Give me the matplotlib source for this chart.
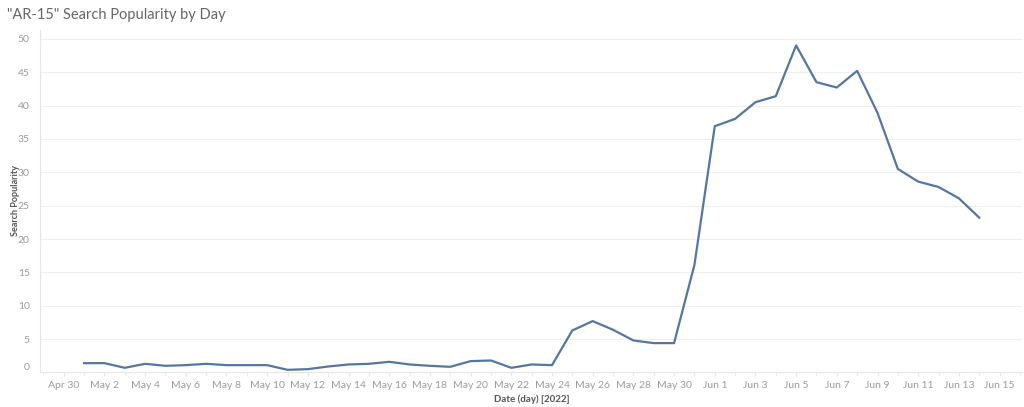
import matplotlib
matplotlib.use("Agg")
import matplotlib.pyplot as plt
import matplotlib.dates as mdates
import numpy as np
import pandas as pd

dates = pd.date_range("2022-05-01", "2022-06-14", freq="D")
popularity = [
    1.4, 1.4, 0.7, 1.3, 1.0, 1.1, 1.3, 1.1, 1.1, 1.1,   # May 1-10
    0.4, 0.5, 0.9, 1.2, 1.3, 1.6, 1.2, 1.0, 0.85, 1.7,  # May 11-20
    1.8, 0.7, 1.2, 1.1, 6.3, 7.7, 6.4, 4.8, 4.4, 4.4,   # May 21-30
    16.1,                                               # May 31
    36.9, 38.0, 40.5, 41.4, 49.0, 43.5, 42.7, 45.2, 38.9, 30.5,  # Jun 1-10
    28.6, 27.8, 26.1, 23.2,                             # Jun 11-14
]
tick_dates = pd.date_range("2022-04-30", "2022-06-15", freq="2D")
tick_labels = [d.strftime("%b ") + str(d.day) for d in tick_dates]
y_ticks = list(range(0, 51, 5))

title = '"AR-15" Search Popularity by Day'
x_title = "Date (day) [2022]"
y_title = "Search Popularity"

plt.rcParams["font.family"] = ["Lato", "DejaVu Sans"]

fig = plt.figure(figsize=(10.24, 4.07), dpi=100)
ax = fig.add_axes([0.0386, 0.0848, 0.9594, 0.8412])

line_color = "#55779f"
ax.plot(dates, popularity, color=line_color, lw=1.6, solid_joinstyle="round")

x0 = pd.Timestamp("2022-04-30")
ax.set_xlim(mdates.date2num(x0) - 1.19, mdates.date2num(x0) + 47.1)
ax.set_ylim(0, 51.3)

ax.set_xticks(tick_dates)
ax.set_xticklabels(tick_labels)
ax.set_yticks(y_ticks)
ax.set_yticklabels([str(v) for v in y_ticks])

ax.xaxis.set_minor_locator(mdates.DayLocator(interval=1))
ax.tick_params(axis="x", which="both", length=3, color="#e8e8e8",
               labelsize=7.5, labelcolor="#9a9a9a", pad=3)
ax.tick_params(axis="y", length=0, labelsize=7.5, labelcolor="#9a9a9a", pad=7)

for v in y_ticks[1:]:
    ax.axhline(v, color="#efefef", lw=0.8, zorder=0)

for s in ["top", "right"]:
    ax.spines[s].set_visible(False)
ax.spines["left"].set_color("#e6e6e6")
ax.spines["bottom"].set_color("#e6e6e6")
ax.spines["left"].set_linewidth(0.8)
ax.spines["bottom"].set_linewidth(0.8)

lbl0 = ax.get_yticklabels()[0]
lbl0.set_va("bottom")

fig.text(531.7 / 1024, 1 - 399.3 / 407, x_title, fontsize=7, color="#555555",
         fontweight="bold", ha="center", va="center")
fig.text(15 / 1024, 1 - 200 / 407, y_title, fontsize=6.5, color="#555555",
         fontweight="bold", ha="center", va="center", rotation=90)

fig.text(0.007, 0.963, title, fontsize=10.5, color="#666666", va="center", ha="left")

fig.savefig("out.png", dpi=100, facecolor="white")
